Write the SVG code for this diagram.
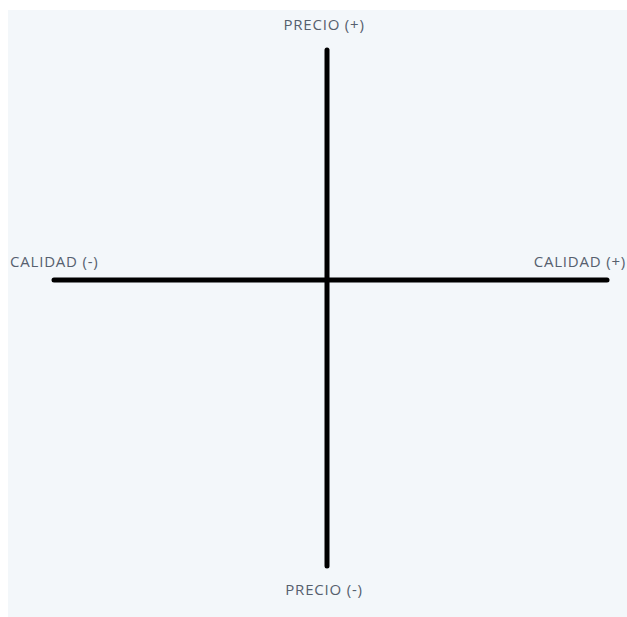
<svg xmlns="http://www.w3.org/2000/svg" width="627" height="617" viewBox="0 0 627 617">
<style>
.lbl{font-family:"Open Sans","Liberation Sans",sans-serif;font-size:15px;letter-spacing:0.8px;fill:#56606e}
.axis{stroke:#000;stroke-width:5;stroke-linecap:round;fill:none}
</style>
<rect x="0" y="0" width="627" height="617" fill="#ffffff"/>
<rect x="8" y="10" width="619" height="607" fill="#f3f7fa"/>
<g id="connectors">
<line class="axis" x1="327" y1="50" x2="327" y2="566"/>
<line class="axis" x1="54" y1="280" x2="607" y2="280"/>
</g>
<g id="precio-plus"><text class="lbl" x="324" y="30" text-anchor="middle">PRECIO (+)</text></g>
<g id="precio-minus"><text class="lbl" x="324" y="595" text-anchor="middle">PRECIO (-)</text></g>
<g id="calidad-minus"><text class="lbl" x="10" y="267">CALIDAD (-)</text></g>
<g id="calidad-plus"><text class="lbl" x="626" y="267" text-anchor="end">CALIDAD (+)</text></g>
</svg>
